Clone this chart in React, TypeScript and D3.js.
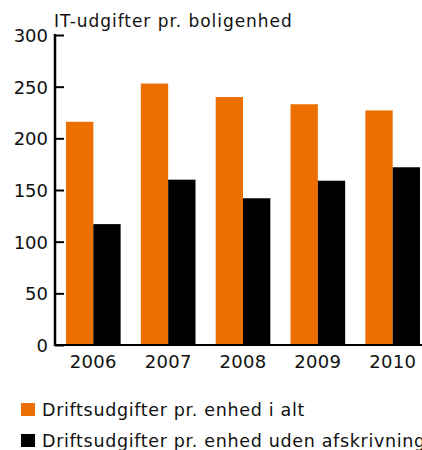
import React, { useRef, useEffect } from "react";
import * as d3 from "d3";

// data
const years = ["2006", "2007", "2008", "2009", "2010"];
const totalValues = [216, 253, 240, 233, 227];
const excludingDepreciation = [117, 160, 142, 159, 172];
const yTicks = [0, 50, 100, 150, 200, 250, 300];
const seriesNames = [
    "Driftsudgifter pr. enhed i alt",
    "Driftsudgifter pr. enhed uden afskrivninger",
];
const title = "IT-udgifter pr. boligenhed";

const ORANGE = "#ec6f00";
const BLACK = "#000000";
const FONT = "DejaVu Sans, sans-serif";

export default function App() {
    const svgRef = useRef<SVGSVGElement>(null);

    useEffect(() => {
        const w = 422;
        const h = 450;
        const svg = d3.select(svgRef.current).attr("width", w).attr("height", h);
        svg.selectAll("*").remove();

        const axisX = 55;
        const axisY = 345;

        const x = d3.scaleBand().domain(years).range([66, 420]).paddingInner(0.27).paddingOuter(0);
        const inner = d3.scaleBand().domain(["a", "b"]).range([0, x.bandwidth()]);
        const y = d3.scaleLinear().domain([0, 300]).range([axisY, 35]);

        // bars
        const groups = svg.append("g")
            .selectAll("g")
            .data(years)
            .join("g")
            .attr("transform", d => `translate(${x(d)},0)`);

        groups.append("rect")
            .attr("x", inner("a")!)
            .attr("width", inner.bandwidth())
            .attr("y", (d, i) => y(totalValues[i]))
            .attr("height", (d, i) => axisY - y(totalValues[i]))
            .attr("fill", ORANGE);

        groups.append("rect")
            .attr("x", inner("b")!)
            .attr("width", inner.bandwidth())
            .attr("y", (d, i) => y(excludingDepreciation[i]))
            .attr("height", (d, i) => axisY - y(excludingDepreciation[i]))
            .attr("fill", BLACK);

        // y axis, ticks pointing inward
        const yAxis = d3.axisLeft(y).tickValues(yTicks).tickSizeInner(-9).tickSizeOuter(0).tickPadding(7);
        const gy = svg.append("g")
            .attr("transform", `translate(${axisX},0)`)
            .call(yAxis);
        gy.select(".domain").remove();
        gy.selectAll("line").attr("stroke", "#000").attr("stroke-width", 2);
        gy.selectAll("text")
            .attr("font-family", FONT)
            .attr("font-size", 18)
            .attr("fill", "#111")
            .attr("dy", "0.36em");

        svg.append("line")
            .attr("x1", axisX).attr("x2", axisX)
            .attr("y1", 34).attr("y2", axisY + 1)
            .attr("stroke", "#000").attr("stroke-width", 2.5);

        // x axis
        svg.append("line")
            .attr("x1", axisX - 1).attr("x2", w)
            .attr("y1", axisY).attr("y2", axisY)
            .attr("stroke", "#000").attr("stroke-width", 2);

        svg.append("g")
            .selectAll("text")
            .data(years)
            .join("text")
            .attr("x", d => x(d)! + x.bandwidth() / 2)
            .attr("y", 368)
            .attr("text-anchor", "middle")
            .attr("font-family", FONT)
            .attr("font-size", 18)
            .attr("letter-spacing", 0.3)
            .attr("fill", "#111")
            .text(d => d);

        // title
        svg.append("text")
            .attr("x", 54)
            .attr("y", 27)
            .attr("font-family", FONT)
            .attr("font-size", 17)
            .attr("letter-spacing", 0.95)
            .attr("fill", "#111")
            .text(title);

        // legend
        const legend = svg.append("g")
            .selectAll("g")
            .data(seriesNames)
            .join("g")
            .attr("transform", (d, i) => `translate(21,${403 + i * 31})`);
        legend.append("rect")
            .attr("width", 14)
            .attr("height", 13)
            .attr("fill", (d, i) => (i === 0 ? ORANGE : BLACK));
        legend.append("text")
            .attr("x", 21)
            .attr("y", 13)
            .attr("font-family", FONT)
            .attr("font-size", 17.5)
            .attr("letter-spacing", 0.67)
            .attr("fill", "#111")
            .text(d => d);
    }, []);

    return (
        <div style={{ position: "absolute", left: 0, top: 0 }}>
            <svg ref={svgRef} style={{ display: "block" }}></svg>
        </div>
    );
}
